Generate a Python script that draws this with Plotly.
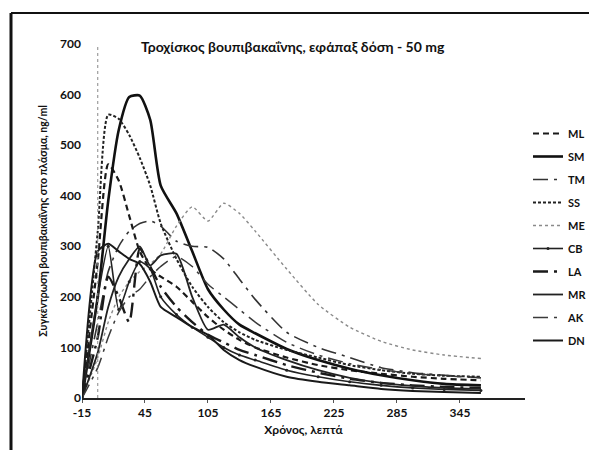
import plotly.graph_objects as go

# Time (minutes)
times = [-15, 0, 10, 20, 30, 40, 50, 60, 75, 90, 105, 120, 135, 150, 180, 210, 240, 270, 300, 330, 365]

ML = [0, 270, 462, 430, 360, 290, 255, 240, 220, 190, 160, 135, 115, 100, 80, 65, 55, 48, 42, 38, 35]
SM = [0, 200, 390, 530, 595, 598, 550, 420, 365, 290, 215, 175, 145, 128, 97, 75, 58, 45, 35, 28, 25]
TM = [0, 150, 250, 300, 330, 345, 350, 340, 310, 300, 298, 275, 235, 195, 130, 100, 80, 60, 50, 45, 40]
SS = [0, 330, 560, 552, 520, 475, 420, 345, 275, 220, 180, 150, 130, 115, 95, 80, 65, 55, 48, 44, 42]
ME = [0, 80, 150, 200, 230, 250, 265, 285, 340, 378, 350, 385, 365, 330, 255, 185, 140, 112, 95, 85, 78]
CB = [0, 200, 300, 175, 230, 270, 255, 200, 165, 140, 120, 100, 85, 75, 55, 42, 32, 25, 20, 17, 15]
LA = [0, 120, 240, 200, 150, 295, 260, 220, 180, 150, 125, 110, 95, 85, 65, 50, 38, 30, 25, 22, 20]
MR = [0, 90, 180, 240, 275, 300, 262, 282, 285, 200, 135, 145, 120, 100, 75, 55, 40, 30, 24, 20, 18]
AK = [0, 60, 120, 170, 200, 215, 240, 260, 280, 260, 225, 200, 175, 150, 110, 85, 68, 56, 48, 44, 40]
DN = [0, 290, 305, 290, 275, 265, 230, 180, 160, 140, 125, 95, 75, 62, 42, 32, 25, 18, 14, 12, 10]

series_names = ["ML", "SM", "TM", "SS", "ME", "CB", "LA", "MR", "AK", "DN"]
series_values = [ML, SM, TM, SS, ME, CB, LA, MR, AK, DN]

styles = {
    "ML": dict(dash="6px,4px", width=2.2, color="#1a1a1a"),
    "SM": dict(dash="solid", width=2.6, color="#111111"),
    "TM": dict(dash="longdashdot", width=1.6, color="#333333"),
    "SS": dict(dash="3px,2px", width=2.0, color="#222222"),
    "ME": dict(dash="dot", width=1.4, color="#8a8a8a"),
    "CB": dict(dash="solid", width=1.6, color="#222222"),
    "LA": dict(dash="longdashdot", width=2.4, color="#1a1a1a"),
    "MR": dict(dash="solid", width=1.8, color="#222222"),
    "AK": dict(dash="longdashdot", width=1.5, color="#3a3a3a"),
    "DN": dict(dash="solid", width=2.0, color="#1a1a1a"),
}

title_text = "Τροχίσκος βουπιβακαΐνης, εφάπαξ δόση - 50 mg"
x_title = "Χρόνος, λεπτά"
y_title = "Συγκέντρωση βουπιβακαΐνης στο πλάσμα, ng/ml"
x_ticks = [-15, 45, 105, 165, 225, 285, 345]
y_ticks = [0, 100, 200, 300, 400, 500, 600, 700]

FONT = "Lato"
W, H = 589, 450
L, T, B = 82, 44, 52
PW = W - L            # paper width (r = 0)
PH = H - T - B        # paper height


def px_x(px):
    return (px - L) / PW


def px_y(py):
    return (H - B - py) / PH


fig = go.Figure()
for name, vals in zip(series_names, series_values):
    st = styles[name]
    mode = "lines+markers" if name == "CB" else "lines"
    fig.add_trace(go.Scatter(
        x=times, y=vals, name=name, mode=mode, legendgroup=name,
        line=dict(color=st["color"], width=st["width"], dash=st["dash"],
                  shape="spline", smoothing=0.6),
        marker=dict(size=3, color=st["color"]),
    ))

fig.update_layout(
    width=W, height=H,
    margin=dict(l=L, r=0, t=T, b=B, autoexpand=False),
    paper_bgcolor="white", plot_bgcolor="white",
    font=dict(family=FONT, size=12, color="#111"),
    showlegend=True,
    legend=dict(x=px_x(528), y=px_y(119), xanchor="left", yanchor="top",
                font=dict(family=FONT, size=11, color="#111", weight="bold"),
                itemwidth=30, tracegroupgap=4, bgcolor="rgba(0,0,0,0)"),
    xaxis=dict(domain=[0, px_x(525)], range=[-15, 407], tickvals=x_ticks,
               ticktext=[str(v) for v in x_ticks],
               showgrid=False, zeroline=False, showline=True, linecolor="#222", linewidth=2,
               ticks="outside", ticklen=3, tickcolor="#555",
               tickfont=dict(family=FONT, size=12, weight="bold", color="#111"),
               title=dict(text=x_title, font=dict(family=FONT, size=12, weight="bold"), standoff=6)),
    yaxis=dict(range=[0, 700], tickvals=y_ticks, showgrid=False, zeroline=False, showline=False,
               ticks="", tickfont=dict(family=FONT, size=12, weight="bold", color="#111"),
               title=dict(text=y_title, font=dict(family=FONT, size=10.5, weight="bold"), standoff=10)),
    annotations=[dict(text=title_text, xref="paper", yref="paper", x=px_x(293), y=px_y(47),
                      xanchor="center", yanchor="middle", showarrow=False,
                      font=dict(family=FONT, size=14, weight="bold", color="#111"))],
    shapes=[
        dict(type="line", xref="x", yref="paper", x0=0, x1=0, y0=0, y1=1,
             line=dict(color="#888", width=1, dash="dot")),
        dict(type="line", xref="paper", yref="paper", x0=px_x(11), x1=px_x(11),
             y0=px_y(13), y1=px_y(452), line=dict(color="#111", width=3)),
        dict(type="line", xref="paper", yref="paper", x0=px_x(11), x1=px_x(592),
             y0=px_y(13), y1=px_y(13), line=dict(color="#111", width=2)),
    ],
)

fig.write_html("out.html", config={"displayModeBar": False},
               post_script="document.body.style.margin='0';")
